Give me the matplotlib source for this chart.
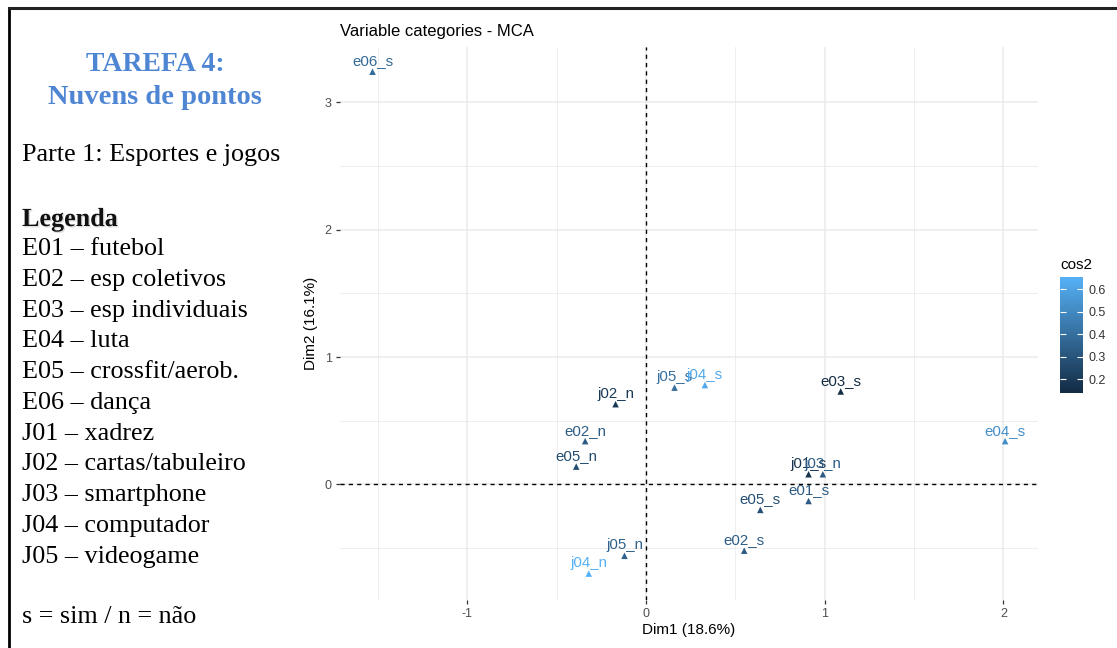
import matplotlib
matplotlib.use("Agg")
import matplotlib.pyplot as plt
import matplotlib.patheffects as pe
from matplotlib.colors import LinearSegmentedColormap, Normalize
from matplotlib.lines import Line2D

plt.rcParams['axes.unicode_minus'] = False
plt.rcParams['font.family'] = ['Liberation Sans', 'DejaVu Sans']

# MCA variable categories
labels = ['e06_s', 'j02_n', 'e02_n', 'e05_n', 'j05_s', 'j04_s', 'e03_s', 'e04_s',
          'j01_s', 'j03_n', 'e01_s', 'e05_s', 'e02_s', 'j05_n', 'j04_n']
dim1 = [-1.53, -0.17, -0.34, -0.39, 0.16, 0.33, 1.09, 2.01,
        0.91, 0.99, 0.91, 0.64, 0.55, -0.12, -0.32]
dim2 = [3.24, 0.63, 0.34, 0.14, 0.76, 0.78, 0.73, 0.34,
        0.08, 0.08, -0.13, -0.20, -0.52, -0.56, -0.70]
cos2 = [0.38, 0.20, 0.33, 0.27, 0.40, 0.62, 0.14, 0.52,
        0.18, 0.33, 0.33, 0.28, 0.33, 0.35, 0.655]

xticks = [-1, 0, 1, 2]
yticks = [0, 1, 2, 3]
cbar_ticks = [0.2, 0.3, 0.4, 0.5, 0.6]

title_lines = ['TAREFA 4:', 'Nuvens de pontos']
subtitle = 'Parte 1: Esportes e jogos'
legend_lines = ['E01 \u2013 futebol', 'E02 \u2013 esp coletivos', 'E03 \u2013 esp individuais',
                'E04 \u2013 luta', 'E05 \u2013 crossfit/aerob.', 'E06 \u2013 dan\u00e7a',
                'J01 \u2013 xadrez', 'J02 \u2013 cartas/tabuleiro', 'J03 \u2013 smartphone',
                'J04 \u2013 computador', 'J05 \u2013 videogame']
footnote = 's = sim / n = n\u00e3o'

W, H = 1117, 648
fig = plt.figure(figsize=(W / 100, H / 100), dpi=100)

def fx(px):
    return px / W

def fy(py):
    return 1 - py / H

# frame around the slide
fig.add_artist(Line2D([fx(9), fx(9)], [fy(8), 0], color='black', lw=2))
fig.add_artist(Line2D([fx(9), 1], [fy(8), fy(8)], color='#222222', lw=2.2))

# left text panel
serif = 'Liberation Serif'
blue = '#4F86D3'
fig.text(fx(155), fy(71), title_lines[0], ha='center', va='baseline',
         fontsize=20, fontweight='bold', color=blue, family=serif)
fig.text(fx(155), fy(104), title_lines[1], ha='center', va='baseline',
         fontsize=20.5, fontweight='bold', color=blue, family=serif)
fig.text(fx(22), fy(161), subtitle, ha='left', va='baseline', fontsize=18.8,
         color='black', family=serif)
fig.text(fx(22), fy(226), 'Legenda', ha='left', va='baseline', fontsize=18.8,
         fontweight='bold', color='#111111', family=serif,
         path_effects=[pe.withSimplePatchShadow(offset=(1, -1),
                                               shadow_rgbFace='#bbbbbb', alpha=0.5)])
for i, line in enumerate(legend_lines):
    fig.text(fx(22), fy(255 + i * 30.77), line, ha='left', va='baseline',
             fontsize=18.8, color='black', family=serif)
fig.text(fx(22), fy(623), footnote, ha='left', va='baseline', fontsize=18.8,
         color='black', family=serif)

# MCA plot
ax = fig.add_axes([fx(340), fy(600), fx(1038) - fx(340), fy(47) - fy(600)])
cmap = LinearSegmentedColormap.from_list('ggblue', ['#132B43', '#56B1F7'])
norm = Normalize(min(cos2), max(cos2))

ax.set_xlim(-1.712, 2.194)
ax.set_ylim(-0.907, 3.434)
ax.set_xticks(xticks)
ax.set_yticks(yticks)
ax.set_xticks([-1.5, -0.5, 0.5, 1.5], minor=True)
ax.set_yticks([-0.5, 0.5, 1.5, 2.5], minor=True)
ax.grid(which='major', color='#EBEBEB', lw=1.1, zorder=0)
ax.grid(which='minor', color='#EBEBEB', lw=0.6, zorder=0)
ax.set_axisbelow(True)
for s in ax.spines.values():
    s.set_visible(False)
ax.tick_params(which='major', length=3, width=0.9, color='#333333',
               labelsize=9, labelcolor='#4D4D4D', pad=3)
ax.tick_params(which='minor', length=0)

ax.axvline(0, color='black', lw=1.0, ls=(0, (3, 3)), zorder=1)
ax.axhline(0, color='black', lw=1.0, ls=(0, (3, 3)), zorder=1)

sc = ax.scatter(dim1, dim2, c=cos2, cmap=cmap, norm=norm, marker='^', s=22,
                linewidths=0, zorder=3)
for lab, x, y, c in zip(labels, dim1, dim2, cos2):
    ax.annotate(lab, (x, y), xytext=(0, 4.7), textcoords='offset points',
                ha='center', va='baseline', fontsize=10.8, color=cmap(norm(c)),
                zorder=4)

ax.set_title('Variable categories - MCA', loc='left', fontsize=12,
             color='black', pad=8)
ax.set_xlabel('Dim1 (18.6%)', fontsize=11, color='black', labelpad=2)
ax.set_ylabel('Dim2 (16.1%)', fontsize=11, color='black', labelpad=5)

# colour bar
cax = fig.add_axes([fx(1060), fy(393), fx(23), fy(277) - fy(393)])
cb = fig.colorbar(sc, cax=cax, ticks=cbar_ticks)
cb.outline.set_visible(False)
cax.tick_params(direction='in', length=4, width=0.8, color='white',
                left=True, right=True, labelsize=9, labelcolor='#333333', pad=4)
cax.set_title('cos2', loc='left', fontsize=11, color='black', pad=6)

fig.savefig('out.png', dpi=100)
